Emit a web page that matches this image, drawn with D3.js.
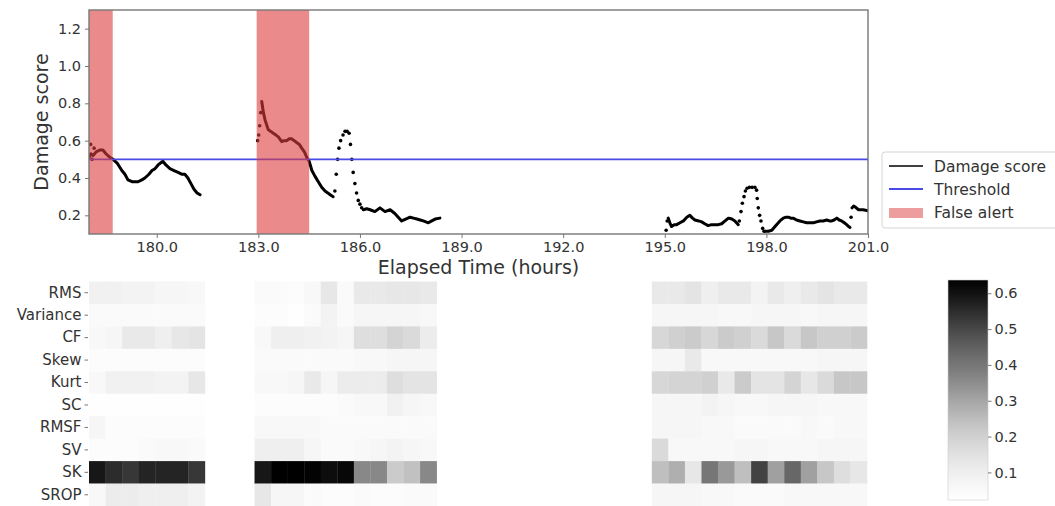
<!DOCTYPE html>
<html>
<head>
<meta charset="utf-8">
<script src="https://cdn.jsdelivr.net/npm/d3@7"></script>
<style>
  html, body { margin: 0; padding: 0; background: #fff; overflow: hidden; }
  svg { display: block; font-family: "DejaVu Sans", sans-serif; }
</style>
</head>
<body>
<svg id="chart" width="1055" height="506"></svg>
<script>
// ---------------- DATA ----------------
// Damage score: solid (dense) segments, [elapsed hours, score]
const scoreSolid1 = [[178.00,0.51],[178.06,0.53],[178.12,0.52],[178.21,0.54],[178.32,0.55],[178.41,0.55],[178.50,0.53],[178.62,0.51],[178.71,0.50],[178.83,0.48],[178.97,0.44],[179.06,0.42],[179.15,0.39],[179.27,0.38],[179.36,0.38],[179.45,0.38],[179.56,0.39],[179.65,0.40],[179.77,0.42],[179.86,0.44],[179.95,0.45],[180.04,0.47],[180.18,0.49],[180.27,0.47],[180.39,0.45],[180.51,0.44],[180.63,0.43],[180.75,0.42],[180.83,0.42],[180.92,0.40],[181.01,0.37],[181.10,0.34],[181.19,0.32],[181.28,0.31]];
const scoreSolid2 = [[183.10,0.81],[183.15,0.75],[183.20,0.71],[183.29,0.66],[183.36,0.65],[183.44,0.64],[183.52,0.63],[183.59,0.62],[183.69,0.595],[183.76,0.60],[183.84,0.60],[183.91,0.61],[183.98,0.61],[184.06,0.60],[184.13,0.59],[184.21,0.58],[184.28,0.56],[184.36,0.54],[184.43,0.51],[184.50,0.49],[184.58,0.44],[184.67,0.41],[184.77,0.38],[184.87,0.35],[184.97,0.33],[185.05,0.32],[185.12,0.31],[185.21,0.30]];
const scoreSolid3 = [[186.10,0.23],[186.20,0.235],[186.30,0.23],[186.44,0.22],[186.59,0.24],[186.74,0.22],[186.89,0.23],[187.03,0.21],[187.13,0.19],[187.23,0.17],[187.35,0.18],[187.48,0.19],[187.58,0.185],[187.68,0.18],[187.78,0.175],[187.87,0.17],[188.02,0.16],[188.12,0.17],[188.22,0.18],[188.36,0.185]];
const scoreSolid4 = [[195.10,0.185],[195.15,0.16],[195.20,0.14],[195.28,0.15],[195.35,0.15],[195.45,0.16],[195.55,0.17],[195.65,0.19],[195.74,0.20],[195.82,0.185],[195.89,0.175],[196.00,0.17],[196.09,0.165],[196.18,0.155],[196.28,0.145],[196.38,0.15],[196.48,0.15],[196.58,0.15],[196.68,0.155],[196.78,0.17],[196.88,0.185],[196.98,0.18],[197.07,0.17],[197.17,0.15]];
const scoreSolid5 = [[197.96,0.115],[198.06,0.115],[198.16,0.12],[198.23,0.135],[198.30,0.15],[198.40,0.17],[198.50,0.185],[198.58,0.19],[198.65,0.19],[198.72,0.185],[198.79,0.185],[198.89,0.175],[198.99,0.17],[199.09,0.165],[199.19,0.16],[199.29,0.16],[199.39,0.16],[199.48,0.165],[199.58,0.17],[199.68,0.17],[199.78,0.175],[199.86,0.17],[199.93,0.17],[200.00,0.175],[200.08,0.185],[200.15,0.175],[200.22,0.17],[200.30,0.16],[200.37,0.15],[200.43,0.14],[200.47,0.135]];
const scoreSolid6 = [[200.53,0.24],[200.58,0.25],[200.62,0.245],[200.72,0.23],[200.86,0.23],[201.00,0.225]];
// Damage score: sparse (fast-changing) samples
const scoreSparse = [[178.05,0.58],[178.09,0.50],[178.15,0.56],
  [182.98,0.60],[183.01,0.63],[183.04,0.68],[183.07,0.75],
  [185.26,0.33],[185.30,0.42],[185.34,0.50],[185.38,0.56],[185.43,0.60],[185.50,0.63],[185.56,0.65],[185.62,0.65],[185.68,0.64],[185.72,0.58],[185.76,0.50],[185.80,0.43],[185.85,0.37],[185.90,0.32],[185.95,0.28],[186.00,0.26],[186.05,0.24],
  [195.04,0.12],[195.07,0.17],
  [197.20,0.17],[197.25,0.22],[197.29,0.265],[197.34,0.30],[197.38,0.33],[197.43,0.345],[197.50,0.35],[197.58,0.35],[197.66,0.35],[197.71,0.335],[197.73,0.29],[197.76,0.24],[197.80,0.20],[197.84,0.17],[197.89,0.13],[197.93,0.115],
  [200.50,0.19]];
const threshold = 0.5;
const falseAlerts = [[178.0, 178.7], [182.95, 184.5]];
const xTicks = [180, 183, 186, 189, 192, 195, 198, 201];
const yTicks = [0.2, 0.4, 0.6, 0.8, 1.0, 1.2];
const xDomain = [178.0, 201.0];
const yDomain = [0.1, 1.3];
const legendLabels = ["Damage score", "Threshold", "False alert"];

// Heatmap (feature contributions per time window)
const featureNames = ["RMS","Variance","CF","Skew","Kurt","SC","RMSF","SV","SK","SROP"];
const heatColumnCount = 47;
const heatBlockStarts = [0, 10, 34];
const heatLeft = [
  [0.09,0.09,0.08,0.08,0.07,0.07,0.06],
  [0.05,0.05,0.05,0.05,0.05,0.05,0.05],
  [0.06,0.07,0.12,0.12,0.10,0.13,0.14],
  [0.04,0.04,0.04,0.04,0.04,0.04,0.04],
  [0.06,0.09,0.09,0.09,0.08,0.08,0.13],
  [0.03,0.03,0.03,0.03,0.03,0.03,0.03],
  [0.07,0.04,0.04,0.04,0.04,0.04,0.04],
  [0.04,0.04,0.04,0.05,0.06,0.06,0.05],
  [0.59,0.55,0.53,0.565,0.565,0.565,0.53],
  [0.06,0.11,0.11,0.10,0.10,0.10,0.08]
];
const heatMiddle = [
  [0.05,0.05,0.04,0.06,0.13,0.05,0.12,0.12,0.13,0.13,0.12],
  [0.04,0.04,0.03,0.05,0.08,0.05,0.07,0.07,0.07,0.07,0.06],
  [0.06,0.10,0.10,0.09,0.08,0.07,0.16,0.16,0.19,0.17,0.11],
  [0.05,0.05,0.05,0.05,0.05,0.05,0.06,0.06,0.07,0.07,0.07],
  [0.06,0.06,0.07,0.12,0.07,0.11,0.11,0.11,0.16,0.14,0.14],
  [0.04,0.04,0.04,0.04,0.04,0.05,0.06,0.06,0.09,0.07,0.06],
  [0.06,0.06,0.06,0.06,0.05,0.05,0.05,0.05,0.05,0.05,0.05],
  [0.10,0.10,0.10,0.07,0.05,0.05,0.06,0.07,0.08,0.07,0.06],
  [0.59,0.637,0.637,0.63,0.61,0.62,0.36,0.36,0.215,0.24,0.36],
  [0.13,0.07,0.07,0.05,0.04,0.04,0.05,0.04,0.04,0.05,0.05]
];
const heatRight = [
  [0.12,0.12,0.14,0.10,0.12,0.12,0.08,0.12,0.10,0.12,0.14,0.12,0.12],
  [0.07,0.07,0.07,0.07,0.06,0.06,0.07,0.07,0.07,0.06,0.07,0.07,0.07],
  [0.18,0.20,0.215,0.18,0.215,0.20,0.17,0.225,0.17,0.225,0.20,0.20,0.215],
  [0.07,0.07,0.12,0.06,0.06,0.06,0.06,0.06,0.06,0.06,0.07,0.07,0.07],
  [0.18,0.19,0.19,0.20,0.12,0.215,0.14,0.14,0.19,0.13,0.17,0.225,0.225],
  [0.07,0.07,0.07,0.08,0.07,0.06,0.06,0.07,0.07,0.07,0.06,0.06,0.06],
  [0.07,0.07,0.07,0.06,0.06,0.05,0.05,0.05,0.05,0.06,0.05,0.06,0.06],
  [0.17,0.06,0.06,0.06,0.06,0.07,0.07,0.06,0.06,0.06,0.07,0.07,0.07],
  [0.245,0.28,0.13,0.40,0.325,0.245,0.51,0.31,0.435,0.31,0.225,0.16,0.13],
  [0.07,0.07,0.07,0.06,0.06,0.05,0.05,0.05,0.06,0.06,0.06,0.06,0.06]
];
const colorDomain = [0.023, 0.637];
const colorbarTicks = [0.1, 0.2, 0.3, 0.4, 0.5, 0.6];

// ---------------- DRAW ----------------
(function draw() {
const svg = d3.select("#chart");
const FONT = "DejaVu Sans, sans-serif";
const TXT = "#333";
const AXC = "#777";

// Top panel
const area = {l: 89, r: 868, t: 10, b: 234};
const x = d3.scaleLinear().domain(xDomain).range([area.l, area.r]);
const y = d3.scaleLinear().domain(yDomain).range([area.b, area.t]);

const gTop = svg.append("g");
gTop.append("defs").append("clipPath").attr("id", "clipTop")
  .append("rect").attr("x", area.l).attr("y", area.t).attr("width", area.r - area.l).attr("height", area.b - area.t);
const plot = gTop.append("g").attr("clip-path", "url(#clipTop)");

const line = d3.line().x(d => x(d[0])).y(d => y(d[1]));
[scoreSolid1, scoreSolid2, scoreSolid3, scoreSolid4, scoreSolid5, scoreSolid6].forEach(seg => {
  plot.append("path").datum(seg).attr("d", line)
    .attr("fill", "none").attr("stroke", "#000").attr("stroke-width", 3)
    .attr("stroke-linejoin", "round").attr("stroke-linecap", "round");
});
plot.selectAll("circle.sparse").data(scoreSparse).join("circle")
  .attr("class", "sparse").attr("cx", d => x(d[0])).attr("cy", d => y(d[1]))
  .attr("r", 1.8).attr("fill", "#000");

plot.append("line").attr("x1", area.l).attr("x2", area.r)
  .attr("y1", y(threshold)).attr("y2", y(threshold))
  .attr("stroke", "#4a4ae6").attr("stroke-width", 1.8);

plot.selectAll("rect.alert").data(falseAlerts).join("rect")
  .attr("class", "alert")
  .attr("x", d => x(d[0])).attr("width", d => x(d[1]) - x(d[0]))
  .attr("y", area.t).attr("height", area.b - area.t)
  .attr("fill", "rgb(220,60,60)").attr("fill-opacity", 0.6);

// Frame
gTop.append("rect").attr("x", area.l).attr("y", area.t).attr("width", area.r - area.l).attr("height", area.b - area.t)
  .attr("fill", "none").attr("stroke", AXC).attr("stroke-width", 1.4);

// Axes
const xAxis = gTop.append("g").attr("transform", `translate(0,${area.b})`)
  .call(d3.axisBottom(x).tickValues(xTicks).tickFormat(d3.format(".1f")).tickSize(4).tickPadding(4));
const yAxis = gTop.append("g").attr("transform", `translate(${area.l},0)`)
  .call(d3.axisLeft(y).tickValues(yTicks).tickFormat(d3.format(".1f")).tickSize(4).tickPadding(4));
[xAxis, yAxis].forEach(a => {
  a.select(".domain").remove();
  a.selectAll(".tick line").attr("stroke", AXC);
  a.selectAll(".tick text").attr("fill", TXT).attr("font-size", 14.5).attr("font-family", FONT);
});

gTop.append("text").attr("x", (area.l + area.r) / 2).attr("y", 274)
  .attr("text-anchor", "middle").attr("font-size", 19).attr("fill", TXT).attr("font-family", FONT)
  .text("Elapsed Time (hours)");
gTop.append("text").attr("transform", `translate(48,${(area.t + area.b) / 2}) rotate(-90)`)
  .attr("text-anchor", "middle").attr("font-size", 19).attr("fill", TXT).attr("font-family", FONT)
  .text("Damage score");

// Legend
const lg = svg.append("g").attr("transform", "translate(882,152)");
lg.append("rect").attr("x", 0).attr("y", 0).attr("width", 185).attr("height", 76).attr("rx", 3)
  .attr("fill", "#fff").attr("fill-opacity", 0.8).attr("stroke", "#d5d5d5");
const legendRows = lg.selectAll("g.row").data(legendLabels).join("g")
  .attr("class", "row").attr("transform", (d, i) => `translate(0,${14 + i * 23})`);
legendRows.each(function(d, i) {
  const g = d3.select(this);
  if (i === 0) g.append("line").attr("x1", 7).attr("x2", 41).attr("stroke", "#000").attr("stroke-width", 1.5);
  if (i === 1) g.append("line").attr("x1", 7).attr("x2", 41).attr("stroke", "#4a4ae6").attr("stroke-width", 2);
  if (i === 2) g.append("rect").attr("x", 7).attr("y", -4).attr("width", 34).attr("height", 10)
    .attr("fill", "rgb(220,60,60)").attr("fill-opacity", 0.5);
  g.append("text").attr("x", 52).attr("y", 5.5).attr("font-size", 15.5).attr("fill", TXT)
    .attr("font-family", FONT).text(d);
});

// Heatmap
const hx = d3.scaleBand().domain(d3.range(heatColumnCount)).range([89, 867]).paddingInner(0);
const hy = d3.scaleBand().domain(featureNames).range([281.5, 506]);
const color = d3.scaleSequential(d3.interpolateGreys).domain(colorDomain);

const cells = [];
[heatLeft, heatMiddle, heatRight].forEach((block, bi) => {
  block.forEach((row, ri) => {
    row.forEach((v, ci) => cells.push({col: heatBlockStarts[bi] + ci, feat: featureNames[ri], v}));
  });
});
const gHeat = svg.append("g");
gHeat.selectAll("rect").data(cells).join("rect")
  .attr("x", d => hx(d.col)).attr("y", d => hy(d.feat))
  .attr("width", hx.bandwidth() + 0.3).attr("height", hy.bandwidth() + 0.3)
  .attr("fill", d => color(d.v));

const hAxis = svg.append("g").attr("transform", "translate(88,0)")
  .call(d3.axisLeft(hy).tickSize(3.5).tickPadding(3));
hAxis.select(".domain").remove();
hAxis.selectAll(".tick line").attr("stroke", AXC);
hAxis.selectAll(".tick text").attr("fill", TXT).attr("font-size", 15).attr("font-family", FONT);

// Colorbar
const cb = {x: 948, w: 40, t: 280, b: 500};
const cy = d3.scaleLinear().domain(colorDomain).range([cb.b, cb.t]);
const grad = svg.append("defs").append("linearGradient").attr("id", "cbgrad")
  .attr("x1", 0).attr("x2", 0).attr("y1", 1).attr("y2", 0);
d3.range(0, 1.0001, 0.05).forEach(t => {
  grad.append("stop").attr("offset", t)
    .attr("stop-color", color(colorDomain[0] + t * (colorDomain[1] - colorDomain[0])));
});
svg.append("rect").attr("x", cb.x).attr("y", cb.t).attr("width", cb.w).attr("height", cb.b - cb.t)
  .attr("fill", "url(#cbgrad)").attr("stroke", "#ccc").attr("stroke-width", 0.6);
const cAxis = svg.append("g").attr("transform", `translate(${cb.x + cb.w},0)`)
  .call(d3.axisRight(cy).tickValues(colorbarTicks).tickFormat(d3.format(".1f")).tickSize(3.5).tickPadding(3));
cAxis.select(".domain").remove();
cAxis.selectAll(".tick line").attr("stroke", AXC);
cAxis.selectAll(".tick text").attr("fill", TXT).attr("font-size", 14.5).attr("font-family", FONT);
})();
</script>
</body>
</html>
